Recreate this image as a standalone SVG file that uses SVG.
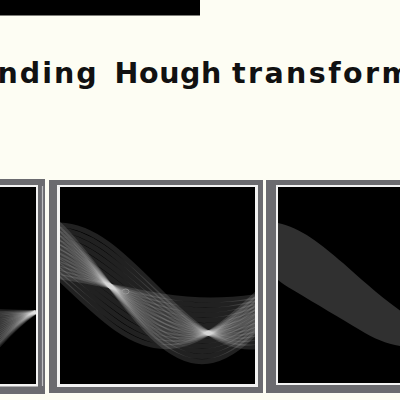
<svg xmlns="http://www.w3.org/2000/svg" xmlns:xlink="http://www.w3.org/1999/xlink" width="400" height="400" viewBox="0 0 400 400">
<style>
.frame{fill:#6b6b6f}
.hl{fill:#f2f2f2}
.ink{fill:#000}
.cv{fill:none;stroke:#fff;stroke-opacity:0.13;stroke-width:5}
.fan{fill:none;stroke:#fff;stroke-opacity:0.12;stroke-width:4}
.ns{vector-effect:non-scaling-stroke}
.title{font-family:"DejaVu Sans",Verdana,sans-serif;font-weight:bold;font-size:28.5px;fill:#111}
</style>
<defs>
<path id="cs" class="ns" d="M-6.2832,1 c0.5685,0 1.0585,-0.4877 1.5708,-1 c0.5123,-0.5123 1.0023,-1 1.5708,-1 c0.5685,0 1.0585,0.4877 1.5708,1 c0.5123,0.5123 1.0023,1 1.5708,1 c0.5685,0 1.0585,-0.4877 1.5708,-1 c0.5123,-0.5123 1.0023,-1 1.5708,-1 c0.5685,0 1.0585,0.4877 1.5708,1 c0.5123,0.5123 1.0023,1 1.5708,1"/>
<clipPath id="clipL"><rect x="-5" y="187" width="41" height="197"/></clipPath>
<clipPath id="clipM"><rect x="60" y="187" width="195" height="197"/></clipPath>
<clipPath id="clipR"><rect x="278" y="187" width="130" height="196"/></clipPath>
</defs>
<rect width="400" height="400" fill="#fdfdf3"/>
<rect id="topbar" x="0" y="0" width="200" height="15.5" fill="#000"/>
<text class="title" y="83"><tspan x="-2.5" letter-spacing="2">nding </tspan><tspan x="114.5" letter-spacing="0.6">Hough </tspan><tspan x="232" letter-spacing="2.4">transform</tspan></text>

<g id="panel-left">
<rect class="frame" x="-5" y="179" width="50" height="215"/>
<rect class="hl" x="-5" y="185" width="43" height="201.5"/>
<rect class="ink" x="-5" y="187" width="41" height="197"/>
<line x1="42.5" y1="186" x2="42.5" y2="386" stroke="#e6e6e6" stroke-width="1.2" stroke-opacity="0.7"/>
<g clip-path="url(#clipL)" class="fan">
<path d="M36,312 Q16,311.65 -6,311"/>
<path d="M36,312 Q16,312.5 -6,313.5"/>
<path d="M36,312 Q16,313.4 -6,316"/>
<path d="M36,312 Q16,314.3 -6,318.5"/>
<path d="M36,312 Q16,315.2 -6,321"/>
<path d="M36,312 Q16,316 -6,323.5"/>
<path d="M36,312 Q16,316.9 -6,326"/>
<path d="M36,312 Q16,317.8 -6,328.5"/>
<path d="M36,312 Q16,318.7 -6,331"/>
<path d="M36,312 Q16,319.5 -6,333.5"/>
<path d="M36,312 Q16,320.4 -6,336"/>
<path d="M36,312 Q16,321.3 -6,338.5"/>
<path d="M36,312 Q16,322.2 -6,341"/>
<path d="M36,312 Q16,323 -6,343.5"/>
<path d="M36,312 Q16,323.9 -6,346"/>
<path d="M36,312 Q16,324.8 -6,348.5"/>
<path d="M36,312 Q16,325.7 -6,351"/>
</g>
</g>

<g id="panel-middle">
<rect class="frame" x="49" y="180" width="214" height="213"/>
<rect class="hl" x="57" y="185" width="201" height="202"/>
<rect class="ink" x="60" y="187" width="195" height="197"/>
<g clip-path="url(#clipM)" class="cv">
<use xlink:href="#cs" transform="translate(61 287) scale(61.115 12.98) translate(2.4509 0)"/>
<use xlink:href="#cs" transform="translate(61 286.46) scale(61.115 18.62) translate(2.3986 0)"/>
<use xlink:href="#cs" transform="translate(61 285.92) scale(61.115 24.29) translate(2.3704 0)"/>
<use xlink:href="#cs" transform="translate(61 285.375) scale(61.115 29.96) translate(2.3533 0)"/>
<use xlink:href="#cs" transform="translate(61 284.83) scale(61.115 35.65) translate(2.3413 0)"/>
<use xlink:href="#cs" transform="translate(61 284.29) scale(61.115 41.34) translate(2.3328 0)"/>
<use xlink:href="#cs" transform="translate(61 283.75) scale(61.115 47.03) translate(2.3263 0)"/>
<use xlink:href="#cs" transform="translate(61 283.21) scale(61.115 52.73) translate(2.3213 0)"/>
<use xlink:href="#cs" transform="translate(61 282.67) scale(61.115 58.42) translate(2.3172 0)"/>
<use xlink:href="#cs" transform="translate(61 282.125) scale(61.115 64.12) translate(2.3138 0)"/>
<use xlink:href="#cs" transform="translate(61 281.58) scale(61.115 69.81) translate(2.3109 0)"/>
<use xlink:href="#cs" transform="translate(61 281.04) scale(61.115 75.51) translate(2.3086 0)"/>
<use xlink:href="#cs" transform="translate(61 280.5) scale(61.115 81.21) translate(2.3066 0)"/>
<use xlink:href="#cs" transform="translate(61 288.5) scale(61.115 58.13) translate(1.7176 0)"/>
<use xlink:href="#cs" transform="translate(61 288.29) scale(61.115 54.46) translate(1.8095 0)"/>
<use xlink:href="#cs" transform="translate(61 288.08) scale(61.115 51.32) translate(1.9137 0)"/>
<use xlink:href="#cs" transform="translate(61 287.875) scale(61.115 48.80) translate(2.0297 0)"/>
<use xlink:href="#cs" transform="translate(61 287.67) scale(61.115 47.01) translate(2.1566 0)"/>
<use xlink:href="#cs" transform="translate(61 287.46) scale(61.115 46.03) translate(2.2913 0)"/>
<use xlink:href="#cs" transform="translate(61 287.25) scale(61.115 45.91) translate(2.4295 0)"/>
<use xlink:href="#cs" transform="translate(61 287.04) scale(61.115 46.66) translate(2.5655 0)"/>
<use xlink:href="#cs" transform="translate(61 286.83) scale(61.115 48.23) translate(2.6951 0)"/>
<use xlink:href="#cs" transform="translate(61 286.625) scale(61.115 50.56) translate(2.8144 0)"/>
<use xlink:href="#cs" transform="translate(61 286.42) scale(61.115 53.54) translate(2.9219 0)"/>
<use xlink:href="#cs" transform="translate(61 286.21) scale(61.115 57.07) translate(3.0171 0)"/>
<use xlink:href="#cs" transform="translate(61 286) scale(61.115 61.05) translate(3.1006 0)"/>
</g>
<ellipse cx="125.5" cy="291.5" rx="3.5" ry="2.4" fill="none" stroke="#9a9a9a" stroke-width="0.8"/>
</g>

<g id="panel-right">
<rect class="frame" x="266" y="180" width="140" height="213"/>
<rect class="hl" x="276" y="185" width="130" height="200"/>
<rect class="ink" x="278" y="187" width="130" height="196"/>
<g clip-path="url(#clipR)">
<path d="M278,223 C300,227 322,245 343,263 C360,278 380,297 408,316 L408,347 C392,346 376,340 360,330 C340,318 318,305 293,290 C287,287 282,283 278,280 Z" fill="#303030"/>
</g>
</g>
</svg>
